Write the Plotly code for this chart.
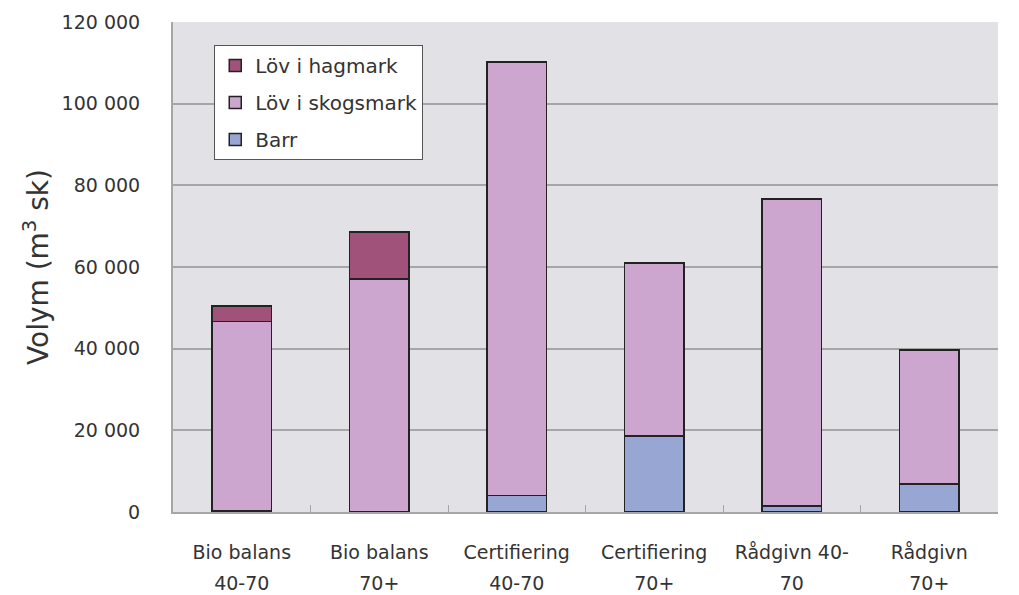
import plotly.graph_objects as go

categories = ["Bio balans 40-70", "Bio balans 70+", "Certifiering 40-70",
              "Certifiering 70+", "Rådgivn 40-70", "Rådgivn 70+"]
label_line1 = ["Bio balans", "Bio balans", "Certifiering", "Certifiering", "Rådgivn 40-", "Rådgivn"]
label_line2 = ["40-70", "70+", "40-70", "70+", "70", "70+"]

barr = [400, 0, 4000, 18600, 1500, 6900]
lov_skog = [46200, 57100, 106200, 42400, 75200, 32800]
lov_hag = [3800, 11500, 0, 0, 0, 0]

y_ticks = [0, 20000, 40000, 60000, 80000, 100000, 120000]
y_ticktext = ["0", "20 000", "40 000", "60 000", "80 000", "100 000", "120 000"]

_BARR = "#98A6D3"
_SKOG = "#CCA6CE"
_HAG = "#A0527A"
_FONT = "DejaVu Sans"

fig = go.Figure()
for name, vals, color, rank in [("Barr", barr, _BARR, 3),
                                ("Löv i skogsmark", lov_skog, _SKOG, 2),
                                ("Löv i hagmark", lov_hag, _HAG, 1)]:
    fig.add_trace(
        go.Bar(
            x=categories,
            y=vals,
            name=name,
            legendgroup=name,
            legendrank=rank,
            marker=dict(color=color, line=dict(color="#222222", width=1.5)),
        )
    )

# second line of the category labels on an overlaid axis
fig.add_trace(
    go.Scatter(x=list(range(len(categories))), y=[0] * len(categories),
               xaxis="x2", mode="markers", marker=dict(opacity=0),
               showlegend=False, hoverinfo="skip")
)

# the page body adds an 8px offset, so the figure is 8px smaller than the window
fig.update_layout(
    width=1011,
    height=587,
    barmode="stack",
    bargap=0.57,
    plot_bgcolor="#E1E1E6",
    paper_bgcolor="white",
    font=dict(family=_FONT, size=19, color="#333333"),
    margin=dict(l=165, r=21, t=14, b=83, autoexpand=False),
    legend=dict(
        x=0.05, y=0.953, xanchor="left", yanchor="top",
        bgcolor="white", bordercolor="#555555", borderwidth=1,
        font=dict(size=20, color="#333333"),
        traceorder="grouped", tracegroupgap=8,
    ),
    xaxis=dict(
        type="category",
        tickson="boundaries",
        ticks="inside", ticklen=7, tickcolor="#A6A6A6",
        showline=True, linecolor="#A6A6A6", linewidth=2,
        tickvals=categories, ticktext=label_line1,
        ticklabelstandoff=22,
        showgrid=False, automargin=False,
        range=[-0.5, 5.5],
    ),
    xaxis2=dict(
        overlaying="x", anchor="y", side="bottom",
        range=[-0.5, 5.5],
        tickvals=list(range(len(categories))), ticktext=label_line2,
        ticks="", showgrid=False, showline=False, zeroline=False,
        ticklabelstandoff=58, automargin=False,
    ),
    yaxis=dict(
        range=[0, 120000],
        tickvals=y_ticks, ticktext=y_ticktext,
        showgrid=True, gridcolor="#A6A6A6", gridwidth=1.5,
        showline=True, linecolor="#A6A6A6", linewidth=2,
        zeroline=False, automargin=False,
        ticks="", ticklabelstandoff=27,
        title=dict(text="Volym (m<sup>3</sup> sk)", font=dict(size=28, color="#333333"), standoff=5),
    ),
)

fig.write_html("out.html")
